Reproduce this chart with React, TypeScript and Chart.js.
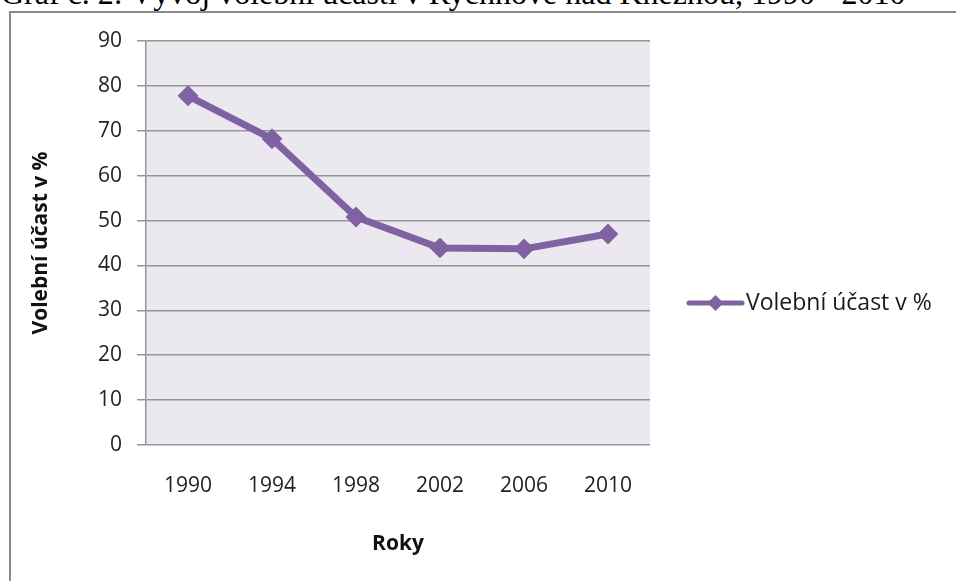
import React, { useEffect, useRef } from "react";
import { Chart, registerables } from "chart.js";

Chart.register(...registerables);

const years = ["1990", "1994", "1998", "2002", "2006", "2010"];
const turnout = [77.8, 68.2, 50.8, 43.9, 43.7, 47.0];
const seriesLabel = "Volební účast v %";
const yAxisTitle = "Volební účast v %";
const xAxisTitle = "Roky";
const yMin = 0;
const yMax = 90;
const yStep = 10;
const caption = "Graf č. 2: Vývoj volební účasti v Rychnově nad Kněžnou, 1990 - 2010";

const PURPLE = "#7F62A1";
const GRID = "#959595";
const FONT = "'Open Sans'";

const plotBg = {
  id: "plotBg",
  beforeDraw(chart: any) {
    const { ctx, chartArea } = chart;
    ctx.save();
    ctx.fillStyle = "#EBE9EF";
    ctx.fillRect(chartArea.left, chartArea.top, chartArea.right - chartArea.left, chartArea.bottom - chartArea.top);
    ctx.restore();
  },
};

const sideLegend = {
  id: "sideLegend",
  afterDraw(chart: any) {
    const { ctx, chartArea } = chart;
    const ds = chart.data.datasets[0];
    const x0 = chartArea.right + 39;
    const x1 = chartArea.right + 92;
    const y = chart.height / 2 + 6;
    ctx.save();
    ctx.strokeStyle = ds.borderColor;
    ctx.lineWidth = 5;
    ctx.lineCap = "round";
    ctx.beginPath();
    ctx.moveTo(x0, y);
    ctx.lineTo(x1, y);
    ctx.stroke();
    const cx = (x0 + x1) / 2;
    const r = 8;
    ctx.fillStyle = ds.borderColor;
    ctx.beginPath();
    ctx.moveTo(cx - r, y);
    ctx.lineTo(cx, y - r);
    ctx.lineTo(cx + r, y);
    ctx.lineTo(cx, y + r);
    ctx.closePath();
    ctx.fill();
    ctx.fillStyle = "#1a1a1a";
    ctx.font = `23px ${FONT}`;
    ctx.textBaseline = "middle";
    ctx.textAlign = "left";
    ctx.fillText(ds.label, x1 + 4, y);
    ctx.restore();
  },
};

export default function App() {
  const ref = useRef<HTMLCanvasElement | null>(null);

  useEffect(() => {
    if (!ref.current) return;
    const chart = new Chart(ref.current, {
      type: "line",
      data: {
        labels: years,
        datasets: [
          {
            label: seriesLabel,
            data: turnout,
            borderColor: PURPLE,
            backgroundColor: PURPLE,
            borderWidth: 7,
            pointStyle: "rectRot",
            pointRadius: 9,
            pointBackgroundColor: PURPLE,
            pointBorderColor: PURPLE,
            pointBorderWidth: 2,
            tension: 0,
          },
        ],
      },
      options: {
        animation: false,
        responsive: false,
        layout: { padding: { left: 5, top: 28, right: 306, bottom: 0 } },
        plugins: {
          legend: { display: false },
          tooltip: { enabled: false },
        },
        scales: {
          x: {
            offset: true,
            grid: { display: false, drawTicks: false },
            border: { display: false },
            ticks: { font: { family: FONT, size: 21 }, color: "#222", padding: 28 },
            title: {
              display: true,
              text: xAxisTitle,
              font: { family: FONT, size: 21, weight: "bold" },
              color: "#111",
              padding: { top: 0, bottom: 24 },
            },
            afterFit: (s: any) => {
              s.height = 136;
            },
          },
          y: {
            min: yMin,
            max: yMax,
            ticks: { stepSize: yStep, font: { family: FONT, size: 21 }, color: "#222", padding: 15 },
            grid: { color: GRID, lineWidth: 1.5, tickLength: 9, drawTicks: true },
            border: { display: true, color: GRID, width: 1.5 },
            title: {
              display: true,
              text: yAxisTitle,
              font: { family: FONT, size: 21, weight: "bold" },
              color: "#111",
              padding: { top: 12, bottom: 0 },
            },
            afterFit: (s: any) => {
              s.width = 130;
            },
          },
        },
      },
      plugins: [plotBg, sideLegend],
    });
    return () => chart.destroy();
  }, []);

  return (
    <div style={{ position: "fixed", left: 0, top: 0, width: 956, height: 581, overflow: "hidden", background: "#fff" }}>
      <div
        style={{
          position: "absolute",
          left: 1,
          top: -23,
          fontFamily: "'Liberation Serif', 'Times New Roman', serif",
          fontSize: 32,
          lineHeight: 1,
          whiteSpace: "nowrap",
          color: "#000",
        }}
      >
        {caption}
      </div>
      <div
        style={{
          position: "absolute",
          left: 9,
          top: 11,
          width: 1000,
          height: 620,
          border: "2px solid #8a8a8a",
          boxSizing: "border-box",
          background: "#fff",
        }}
      >
        <canvas ref={ref} width={945} height={568} style={{ display: "block", width: 945, height: 568 }} />
      </div>
    </div>
  );
}
